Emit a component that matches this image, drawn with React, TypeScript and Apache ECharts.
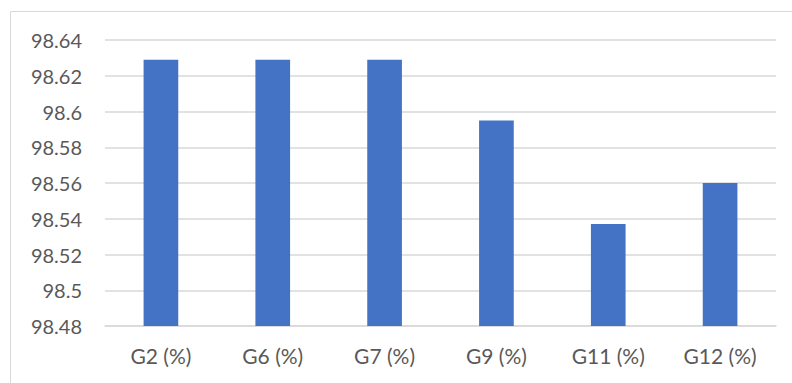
import React, { useEffect, useRef } from "react";
import * as echarts from "echarts";

const categories = ["G2 (%)", "G6 (%)", "G7 (%)", "G9 (%)", "G11 (%)", "G12 (%)"];
const values = [98.629, 98.629, 98.629, 98.595, 98.537, 98.56];
const yMin = 98.48;
const yMax = 98.64;
const yStep = 0.02;

export default function App() {
  const ref = useRef<HTMLDivElement>(null);
  useEffect(() => {
    if (!ref.current) return;
    const chart = echarts.init(ref.current, undefined, { renderer: "svg" });
    chart.setOption({
      animation: false,
      backgroundColor: "#ffffff",
      textStyle: { fontFamily: "Lato" },
      graphic: [
        {
          type: "rect",
          shape: { x: 10.5, y: 11.5, width: 800, height: 400 },
          style: { fill: "none", stroke: "#D9D9D9", lineWidth: 1 },
          silent: true,
        },
      ],
      grid: { left: 105, right: 16, top: 40, bottom: 57 },
      xAxis: {
        type: "category",
        data: categories,
        axisLine: { show: true, lineStyle: { color: "#D9D9D9", width: 1.5 } },
        axisTick: { show: false },
        axisLabel: { color: "#595959", fontSize: 21, margin: 19, fontFamily: "Lato" },
      },
      yAxis: {
        type: "value",
        min: yMin,
        max: yMax,
        interval: yStep,
        axisLine: { show: false },
        axisTick: { show: false },
        splitLine: { lineStyle: { color: "#D9D9D9", width: 1.5 } },
        axisLabel: {
          color: "#595959",
          fontSize: 20,
          margin: 23,
          fontFamily: "Lato",
          formatter: (v: number) => String(parseFloat(v.toFixed(4))),
        },
      },
      series: [
        {
          type: "bar",
          data: values,
          barWidth: "31%",
          itemStyle: { color: "#4472C4" },
        },
      ],
    });
    return () => chart.dispose();
  }, []);
  return <div ref={ref} style={{ width: 792, height: 383, position: "absolute", left: 0, top: 0 }} />;
}
